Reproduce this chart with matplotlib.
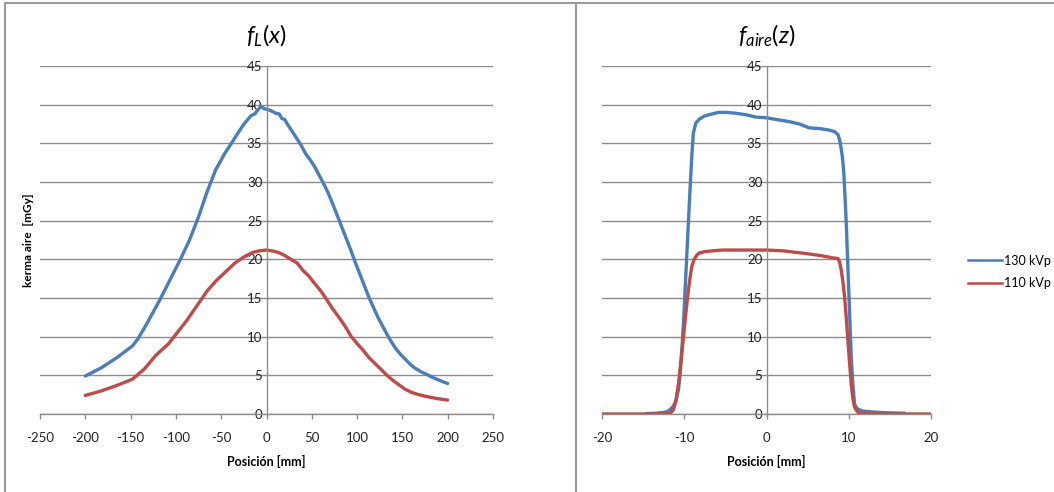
import matplotlib
matplotlib.use("Agg")
import matplotlib.pyplot as plt
from matplotlib.lines import Line2D

plt.rcParams['font.family'] = ['Lato', 'DejaVu Sans']
plt.rcParams['mathtext.fontset'] = 'custom'
plt.rcParams['mathtext.it'] = 'Lato:italic'
plt.rcParams['mathtext.rm'] = 'Lato'

# --- longitudinal profile f_L(x) ---
x_130 = [-200, -182, -165, -148, -142, -132, -118, -105, -95, -85, -75, -66, -56,
         -46, -36, -30, -26, -22, -17, -13, -9, -6, -3, 0, 3, 7, 10, 14, 17, 20, 23,
         28, 33, 38, 43, 48, 53, 58, 63, 68, 73, 78, 83, 88, 93, 98, 103, 108, 113,
         118, 123, 128, 133, 138, 143, 148, 153, 158, 163, 170, 177, 184, 190, 195, 200]
y_130 = [4.9, 6.0, 7.3, 8.8, 9.7, 11.7, 14.7, 17.7, 20.0, 22.5, 25.5, 28.6, 31.6,
         33.7, 35.5, 36.6, 37.3, 37.9, 38.6, 38.8, 39.4, 39.8, 39.5, 39.4, 39.3, 39.1, 38.9, 38.8, 38.2, 38.1, 37.5,
         36.6, 35.7, 34.8, 33.7, 32.9, 32.0, 30.9, 29.8, 28.6, 27.2, 25.7, 24.2, 22.7, 21.2, 19.6, 18.1, 16.6, 15.1,
         13.8, 12.5, 11.4, 10.3, 9.3, 8.4, 7.7, 7.1, 6.5, 6.0, 5.5, 5.1, 4.7, 4.4, 4.15, 3.95]

x_110 = [-200, -182, -165, -148, -135, -122, -108, -98, -88, -75, -65, -55,
         -45, -35, -25, -15, -8, 0, 6, 13, 20, 27, 34, 40, 47, 53, 60, 67, 73, 80,
         87, 93, 100, 107, 113, 120, 127, 133, 140, 147, 153, 160, 168, 177, 188, 200]
y_110 = [2.4, 3.0, 3.7, 4.5, 5.8, 7.6, 9.1, 10.6, 12.1, 14.3, 16.0, 17.3,
         18.4, 19.5, 20.3, 20.9, 21.1, 21.2, 21.1, 20.9, 20.5, 20.0, 19.5, 18.6, 17.8, 16.9, 15.9, 14.7, 13.6, 12.5,
         11.3, 10.1, 9.1, 8.2, 7.3, 6.5, 5.7, 5.0, 4.3, 3.7, 3.2, 2.8, 2.5, 2.25, 2.0, 1.8]

# --- axial profile f_aire(z) ---
z_130 = [-14.6, -13.5, -12.5, -11.9, -11.4, -11.0, -10.7, -10.5, -10.3, -10.1, -9.9,
         -9.7, -9.5, -9.3, -9.1, -8.9, -8.6, -8.2, -7.6, -7.0, -5.8, -4.8, -3.8,
         -2.5, -1.3, 0.0, 1.1, 2.8, 4.0, 5.2, 6.5, 7.7, 8.3, 8.7, 8.9, 9.1, 9.25,
         9.4, 9.55, 9.7, 9.85, 10.0, 10.15, 10.3, 10.5, 10.7, 11.0, 11.6, 12.5, 13.8, 15.0, 16.7]
y_130z = [0.05, 0.1, 0.2, 0.4, 0.9, 1.7, 3.2, 5.2, 8.2, 11.6, 16.0,
          20.3, 24.7, 29.0, 33.0, 36.3, 37.6, 38.1, 38.5, 38.7, 39.0, 39.0, 38.9,
          38.7, 38.4, 38.3, 38.1, 37.8, 37.5, 37.0, 36.9, 36.7, 36.5, 36.1, 35.4, 34.2, 33.0,
          31.1, 28.0, 24.6, 20.3, 16.0, 11.7, 7.4, 3.9, 1.3, 0.7, 0.4, 0.3, 0.2, 0.15, 0.1]

z_110 = [-20.0, -15.0, -12.5, -11.9, -11.6, -11.3, -11.0, -10.7, -10.4, -10.1, -9.85,
         -9.6, -9.35, -9.1, -8.8, -8.5, -8.2, -7.5, -6.5, -5.4, -4.0, -2.0, 0.0,
         2.0, 4.4, 6.5, 8.0, 8.7, 8.9, 9.1, 9.3, 9.5, 9.7, 9.9, 10.1, 10.3, 10.5,
         10.7, 11.0, 11.3, 12.0, 14.0, 20.0]
y_110z = [0.0, 0.0, 0.02, 0.05, 0.2, 0.6, 1.8, 3.9, 6.8, 9.9, 12.6,
          15.1, 17.2, 19.0, 20.0, 20.5, 20.8, 21.0, 21.1, 21.2, 21.2, 21.2, 21.2,
          21.1, 20.8, 20.5, 20.2, 20.1, 19.6, 18.5, 17.0, 15.1, 12.4, 9.5, 6.6, 3.9, 2.0,
          0.9, 0.35, 0.1, 0.03, 0.0, 0.0]

series_labels = ['130 kVp', '110 kVp']
series_colors = ['#4A7EBB', '#BE4B48']

x_ticks = [-250, -200, -150, -100, -50, 0, 50, 100, 150, 200, 250]
z_ticks = [-20, -10, 0, 10, 20]
y_ticks = [0, 5, 10, 15, 20, 25, 30, 35, 40, 45]

W, H = 1054, 492
fig = plt.figure(figsize=(W / 100, H / 100), dpi=100)
fig.patch.set_facecolor('white')

axis_gray = '#8C8C8C'
bot = 1 - 414 / H
hgt = (414 - 66) / H
ax1 = fig.add_axes([40 / W, bot, (493 - 40) / W, hgt])
ax2 = fig.add_axes([602 / W, bot, (931 - 602) / W, hgt])


def style(ax, xticks):
    ax.set_xlim(xticks[0], xticks[-1])
    ax.set_ylim(0, 45)
    ax.set_xticks(xticks)
    ax.set_yticks(y_ticks)
    ax.set_xticklabels([str(t) for t in xticks])
    ax.set_yticklabels([str(t) for t in y_ticks])
    for s in ('top', 'right'):
        ax.spines[s].set_visible(False)
    ax.spines['left'].set_position(('data', 0))
    ax.spines['left'].set_color(axis_gray)
    ax.spines['bottom'].set_color(axis_gray)
    ax.spines['left'].set_linewidth(1.0)
    ax.spines['bottom'].set_linewidth(1.0)
    ax.yaxis.grid(True, color=axis_gray, linewidth=1.0)
    ax.set_axisbelow(True)
    ax.tick_params(axis='y', length=0, pad=3, labelsize=9.5, labelcolor='#222222')
    ax.tick_params(axis='x', direction='out', length=3.6, width=1.0, color=axis_gray,
                   pad=9, labelsize=9.5, labelcolor='#222222')
    ax.set_xlabel('Posición [mm]', fontsize=9, fontweight='bold', labelpad=8)
    ax.patch.set_alpha(0)


style(ax1, x_ticks)
style(ax2, z_ticks)

ax1.plot(x_130, y_130, color=series_colors[0], linewidth=2.4, solid_capstyle='round')
ax1.plot(x_110, y_110, color=series_colors[1], linewidth=2.4, solid_capstyle='round')
ax2.plot(z_130, y_130z, color=series_colors[0], linewidth=2.4, label=series_labels[0])
ax2.plot(z_110, y_110z, color=series_colors[1], linewidth=2.4, label=series_labels[1])

ax1.set_ylabel('kerma aire  [mGy]', fontsize=8.5, fontweight='bold')
ax1.yaxis.set_label_coords(-6 / (493 - 40), 0.5)

fig.text((40 + 493) / 2 / W, 1 - 36 / H, r'$f_L(x)$', fontsize=17, ha='center', va='center')
fig.text((602 + 931) / 2 / W, 1 - 36 / H, r'$f_{aire}(z)$', fontsize=17, ha='center', va='center')

fig.legend(handles=[Line2D([], [], color=series_colors[0], lw=1.8),
                    Line2D([], [], color=series_colors[1], lw=1.8)],
           labels=series_labels, loc='center left',
           bbox_to_anchor=(957 / W, 1 - 272 / H), frameon=False, fontsize=9,
           handlelength=2.7, handletextpad=0.2, labelspacing=0.85)

# panel frames
frame = '#9A9A9A'
fig.add_artist(Line2D([5 / W, 5 / W], [0, 1 - 3 / H], color=frame, lw=1.5, transform=fig.transFigure))
fig.add_artist(Line2D([5 / W, 1], [1 - 3 / H, 1 - 3 / H], color=frame, lw=1.5, transform=fig.transFigure))
fig.add_artist(Line2D([576 / W, 576 / W], [0, 1 - 3 / H], color=frame, lw=1.5, transform=fig.transFigure))

fig.savefig('out.png', dpi=100, facecolor='white')
